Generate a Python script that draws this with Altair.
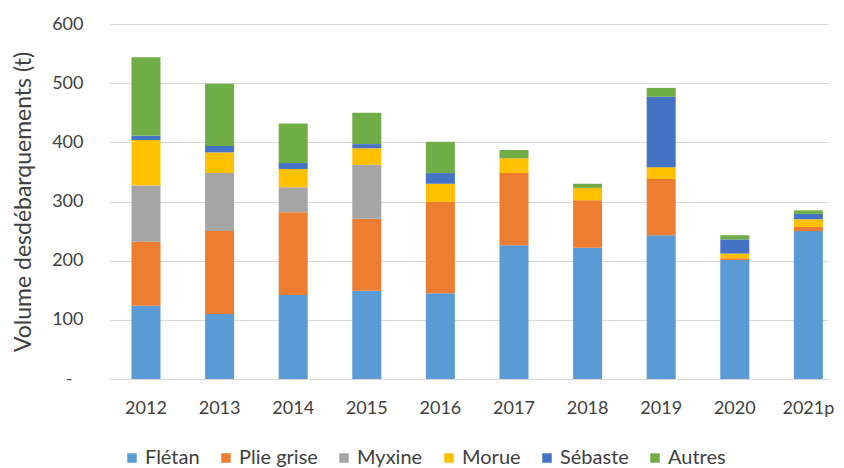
import altair as alt
import pandas as pd

years = ["2012", "2013", "2014", "2015", "2016", "2017", "2018", "2019", "2020", "2021p"]
species = ["Flétan", "Plie grise", "Myxine", "Morue", "Sébaste", "Autres"]
colors = ["#5B9BD5", "#ED7D31", "#A5A5A5", "#FFC000", "#4472C4", "#70AD47"]

fletan = [124, 110, 142, 149, 145, 226, 222, 243, 201, 250]
plie_grise = [108, 140, 140, 122, 154, 122, 80, 95, 3, 7]
myxine = [95, 98, 42, 91, 0, 0, 0, 0, 0, 0]
morue = [77, 35, 31, 28, 31, 25, 21, 20, 8, 13]
sebaste = [7, 11, 10, 7, 18, 0, 0, 119, 24, 9]
autres = [133, 105, 67, 53, 53, 14, 7, 15, 7, 6]

series = [fletan, plie_grise, myxine, morue, sebaste, autres]
rows = []
for si, (name, vals) in enumerate(zip(species, series)):
    for y, v in zip(years, vals):
        rows.append({"Année": y, "Espèce": name, "Volume": v, "ordre": si})
df = pd.DataFrame(rows)

FONT = "Lato"
TXT = "#404040"

chart = alt.Chart(df).mark_bar().encode(
    x=alt.X("Année:N", sort=years,
            scale=alt.Scale(paddingInner=0.606, paddingOuter=0.1875, align=0.815),
            axis=alt.Axis(title=None, labelAngle=0, ticks=False, domain=True,
                          domainColor="#D9D9D9", domainWidth=1,
                          labelPadding=20, labelFontSize=18, labelFont=FONT,
                          labelColor=TXT)),
    y=alt.Y("sum(Volume):Q", stack="zero",
            scale=alt.Scale(domain=[0, 600]),
            axis=alt.Axis(title="Volume desdébarquements (t)", values=[0, 100, 200, 300, 400, 500, 600],
                          labelExpr="datum.value == 0 ? '-' : datum.label",
                          ticks=False, domain=False, gridColor="#D9D9D9", gridWidth=1,
                          labelPadding={"condition": {"test": "datum.value == 0", "value": 37}, "value": 26},
                          labelFontSize=18, labelFont=FONT, labelColor=TXT,
                          titleFontSize=23, titleFont=FONT, titleFontWeight="normal",
                          titleColor=TXT, titlePadding=16)),
    color=alt.Color("Espèce:N", scale=alt.Scale(domain=species, range=colors),
                    legend=alt.Legend(title=None, orient="none", direction="horizontal",
                                      legendX=13, legendY=424, symbolType="square",
                                      symbolSize=90, symbolStrokeWidth=0, symbolOpacity=1,
                                      labelFontSize=20, labelFont=FONT, labelColor=TXT,
                                      columnPadding=16, labelOffset=3)),
    order=alt.Order("ordre:Q", sort="ascending"),
).properties(
    width=719, height=355,
    autosize=alt.AutoSizeParams(type="none"),
    padding={"left": 101, "top": 16, "right": 8, "bottom": 89},
).configure_view(stroke=None).configure_axis(gridOpacity=1)

chart.save("out.html", embed_options={"renderer": "svg", "actions": False})
